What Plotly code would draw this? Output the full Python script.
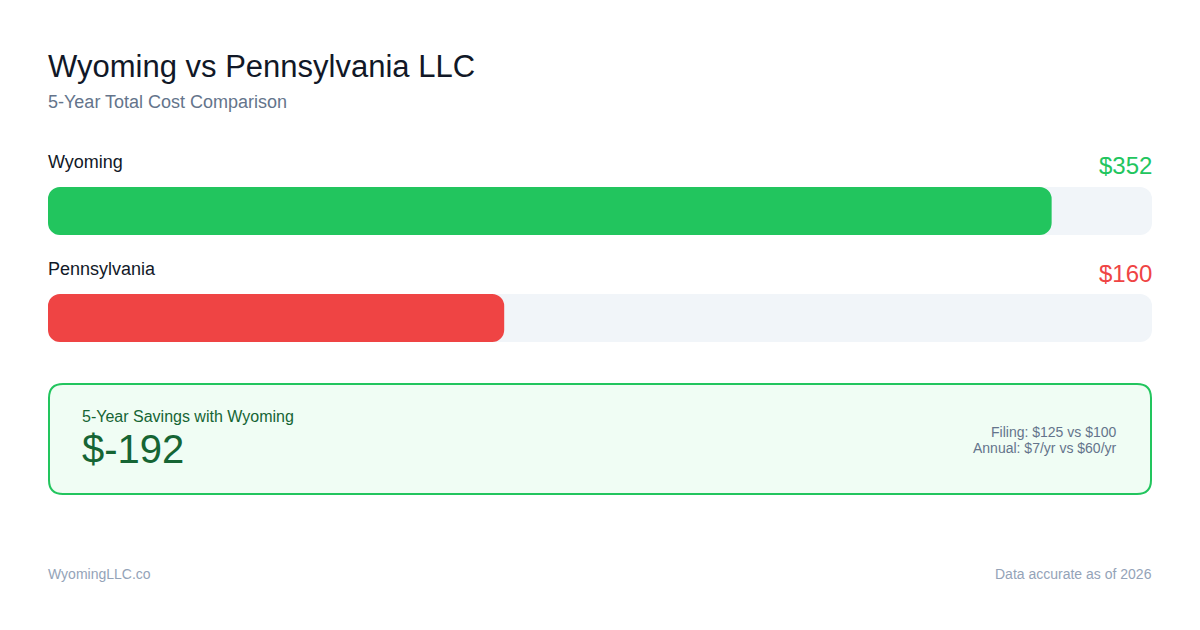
import plotly.graph_objects as go

# data
states = ["Wyoming", "Pennsylvania"]
totals = [352, 160]
bar_colors = ["#22c55e", "#ef4444"]
filing_fees = [125, 100]
annual_fees = [7, 60]
source_text = "WyomingLLC.co"
as_of_text = "Data accurate as of 2026"

scale_max = max(totals) * 1.1
savings = totals[1] - totals[0]

# page body adds 8px, so work in shifted pixel coordinates
OFF = 8
LEFT, RIGHT = 48 - OFF, 1152 - OFF
PLOT_TOP, PLOT_BOT = 150 - OFF, 370 - OFF


def py(pixel):
    return (PLOT_BOT - (pixel - OFF)) / (PLOT_BOT - PLOT_TOP)


def px_(pixel):
    return (pixel - 48) / 1104


ys = list(range(len(states)))
fig = go.Figure()

# explicit base=0 lets plotly round both ends of each bar
fig.add_trace(go.Bar(
    y=ys, x=[scale_max] * len(states), base=[0] * len(states), orientation="h",
    marker=dict(color="#f1f5f9", cornerradius=12, line=dict(width=0)),
    width=0.449, hoverinfo="skip", showlegend=False
))
fig.add_trace(go.Bar(
    y=ys, x=totals, base=[0] * len(states), orientation="h",
    marker=dict(color=bar_colors, cornerradius=12, line=dict(width=0)),
    width=0.449, showlegend=False
))


def ann(x, y, text, size, color, anchor="left", yref="paper", yshift=0):
    return dict(x=x, y=y, xref="paper", yref=yref, text=text, showarrow=False,
                xanchor=anchor, yanchor="middle", yshift=yshift,
                xshift=-2 if anchor == "left" else 2,
                font=dict(size=size, color=color))


annotations = []
for i, (name, val, col) in enumerate(zip(states, totals, bar_colors)):
    annotations.append(ann(0, i, name, 18, "#111827", yref="y", yshift=49))
    annotations.append(ann(1, i, f"${val}", 24, col, anchor="right", yref="y", yshift=45))

annotations += [
    ann(0, py(66), "Wyoming vs Pennsylvania LLC", 31, "#111827"),
    ann(0, py(102), "5-Year Total Cost Comparison", 18, "#64748b"),
    ann(px_(82), py(416), "5-Year Savings with Wyoming", 16, "#166534"),
    ann(px_(82), py(449), f"${savings}", 40, "#166534"),
    ann(px_(1117), py(432), f"Filing: ${filing_fees[0]} vs ${filing_fees[1]}", 14, "#64748b", "right"),
    ann(px_(1117), py(448), f"Annual: ${annual_fees[0]}/yr vs ${annual_fees[1]}/yr", 14, "#64748b", "right"),
    ann(0, py(574), source_text, 14, "#94a3b8"),
    ann(1, py(574), as_of_text, 14, "#94a3b8", "right"),
]

# rounded savings box
x0, x1 = px_(49), px_(1151)
y0, y1 = py(384), py(494)
rx, ry = 14 / 1104, 14 / 220
box_path = (
    f"M {x0 + rx},{y0} L {x1 - rx},{y0} Q {x1},{y0} {x1},{y0 - ry} "
    f"L {x1},{y1 + ry} Q {x1},{y1} {x1 - rx},{y1} "
    f"L {x0 + rx},{y1} Q {x0},{y1} {x0},{y1 + ry} "
    f"L {x0},{y0 - ry} Q {x0},{y0} {x0 + rx},{y0} Z"
)

fig.update_layout(
    width=1200, height=630,
    margin=dict(l=LEFT, r=1200 - RIGHT, t=PLOT_TOP, b=630 - PLOT_BOT),
    paper_bgcolor="white", plot_bgcolor="white",
    barmode="overlay",
    font=dict(family="Liberation Sans, Arial, sans-serif"),
    xaxis=dict(range=[0, scale_max], visible=False, fixedrange=True),
    yaxis=dict(range=[1.486, -0.570], visible=False, fixedrange=True),
    annotations=annotations,
    shapes=[dict(type="path", path=box_path, xref="paper", yref="paper",
                 fillcolor="#f0fdf4", line=dict(color="#22c55e", width=2), layer="below")],
    showlegend=False,
)

fig.write_html("out.html", config={"displayModeBar": False})
